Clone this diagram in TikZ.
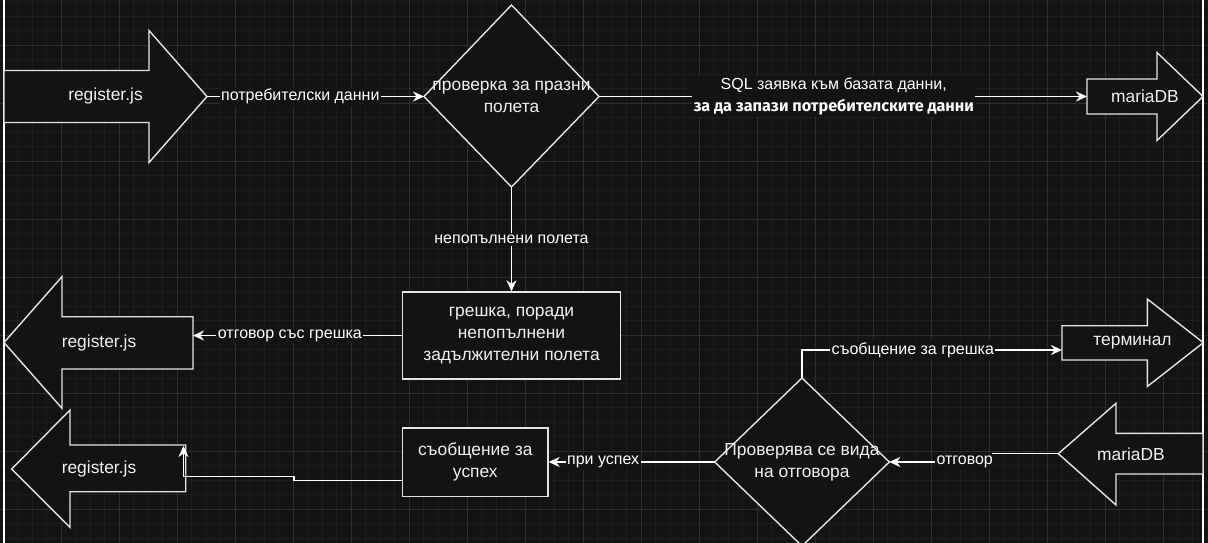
\documentclass[tikz,border=0pt]{standalone}
\usepackage{fontspec}
\setmainfont{Liberation Sans}
\newfontfamily\notefont{Fira Sans}
\usetikzlibrary{arrows.meta}

\definecolor{bg}{HTML}{131313}
\definecolor{gridmin}{HTML}{1D1D1D}
\definecolor{gridmaj}{HTML}{2E2E2E}
\definecolor{stroke}{HTML}{E4E4E4}
\definecolor{ink}{HTML}{F0F0F0}

\begin{document}
\begin{tikzpicture}[x=1pt,y=-1pt,
  shapeline/.style={draw=stroke,line width=1.4pt,fill=bg,line join=miter},
  nodetext/.style={text=ink,font=\fontsize{17.4}{21.7}\selectfont,align=center,inner sep=0pt},
  boxnode/.style={draw=stroke,line width=1.4pt,fill=bg,text=ink,
    font=\fontsize{17.4}{21.7}\selectfont,align=center,inner sep=0pt},
  connector/.style={draw=white,line width=1.4pt,
    -{Stealth[length=11pt,width=10pt,inset=3.5pt]}},
  edgelabel/.style={fill=bg,text=white,font=\fontsize{16}{22}\selectfont,
    inner xsep=1.5pt,inner ysep=2pt,align=center},
  gridminor/.style={draw=gridmin,line width=0.7pt},
  gridmajor/.style={draw=gridmaj,line width=0.8pt},
  frameline/.style={draw=white,line width=1.3pt}]

% canvas
\fill[bg] (0,0) rectangle (1208,543);
\useasboundingbox (0,0) rectangle (1208,543);

% background grid
\foreach \i in {0,...,83} {
  \pgfmathsetmacro\gx{3+14.5*\i}
  \draw[gridminor] (\gx,0) -- (\gx,543);
}
\foreach \i in {0,...,37} {
  \pgfmathsetmacro\gy{1.8+14.5*\i}
  \draw[gridminor] (0,\gy) -- (1208,\gy);
}
\foreach \i in {0,...,20} {
  \pgfmathsetmacro\gx{3+58*\i}
  \draw[gridmajor] (\gx,0) -- (\gx,543);
}
\foreach \i in {0,...,8} {
  \pgfmathsetmacro\gy{45.3+58*\i}
  \draw[gridmajor] (0,\gy) -- (1208,\gy);
}

% side rules
\draw[frameline] (4,0) -- (4,543);
\draw[frameline] (1203,0) -- (1203,543);

% register.js (outgoing request)
\draw[shapeline] (4,70.5) -- (149,70.5) -- (149,30.5) -- (207,96.5)
  -- (149,162.5) -- (149,122.5) -- (4,122.5) -- cycle;
\node[nodetext] (regA) at (105.5,96.5) {register.js};
\coordinate (regA-tip) at (207,96.5);

% check for empty fields
\draw[shapeline] (511.5,5) -- (599,96.5) -- (511.5,187) -- (424,96.5) -- cycle;
\node[nodetext] (chkA) at (511.5,97) {проверка за празни\\полета};
\coordinate (chkA-w) at (424,96.5);
\coordinate (chkA-e) at (599,96.5);
\coordinate (chkA-s) at (511.5,187);

% mariaDB (insert)
\draw[shapeline] (1087,79) -- (1157,79) -- (1157,52.5) -- (1203,96.5)
  -- (1157,140.5) -- (1157,114) -- (1087,114) -- cycle;
\node[nodetext] (dbA) at (1145,96.5) {mariaDB};
\coordinate (dbA-tail) at (1087,96.5);

% error box
\node[boxnode,minimum width=218pt,minimum height=87pt] (errbox) at (511.5,335.5)
  {грешка, поради\\непопълнени\\задължителни полета};

% register.js (error reply)
\draw[shapeline] (4,342.5) -- (62,276.7) -- (62,316.7) -- (193,316.7)
  -- (193,369) -- (62,369) -- (62,408.3) -- cycle;
\node[nodetext] (regB) at (99,342.7) {register.js};
\coordinate (regB-tail) at (193,335.5);

% register.js (success reply)
\draw[shapeline] (11.7,469) -- (70,410) -- (70,445) -- (185.7,445)
  -- (185.7,491.7) -- (70,491.7) -- (70,527.3) -- cycle;
\node[nodetext] (regC) at (99,469) {register.js};
\coordinate (regC-in) at (183.5,446);

% success message
\node[boxnode,minimum width=145.3pt,minimum height=68.4pt] (okbox) at (475.3,462)
  {съобщение за\\успех};
\coordinate (okbox-out) at ([yshift=-18.7pt]okbox.west);

% response type check
\draw[shapeline] (802,378) -- (889.3,462) -- (802,546) -- (714.7,462) -- cycle;
\node[nodetext] (chkB) at (802,462.5) {Проверява се вида\\на отговора};
\coordinate (chkB-n) at (802,378);
\coordinate (chkB-e) at (889.3,462);
\coordinate (chkB-w) at (714.7,462);

% terminal
\draw[shapeline] (1062,325.7) -- (1147.3,325.7) -- (1147.3,299) -- (1203.3,342.7)
  -- (1147.3,386.5) -- (1147.3,360) -- (1062,360) -- cycle;
\node[nodetext] (term) at (1132.5,342.7) {терминал};
\coordinate (term-in) at (1062,350);

% mariaDB (response)
\draw[shapeline] (1058.3,453.7) -- (1116,403.3) -- (1116,433.3) -- (1203,433.3)
  -- (1203,474) -- (1116,474) -- (1116,505) -- cycle;
\node[nodetext] (dbB) at (1131,454) {mariaDB};
\coordinate (dbB-tip) at (1058.3,453.7);

% connectors
\draw[connector] (regA-tip) -- node[edgelabel,pos=0.43] {потребителски данни} (chkA-w);
\draw[connector] (chkA-e) -- node[edgelabel,pos=0.481]
  {SQL заявка към базата данни,\\{\notefont\bfseries\fontsize{16.2}{22}\selectfont за да запази потребителските данни}}
  (dbA-tail);
\draw[connector] (chkA-s) -- node[edgelabel] {непопълнени полета} (errbox.north);
\draw[connector] (errbox.west) -- node[edgelabel,pos=0.536] {отговор със грешка} (regB-tail);
\draw[connector] (okbox-out) -- (294,480.7) -- (294,476.7) -| (regC-in);
\draw[connector] (chkB-w) -- node[edgelabel,pos=0.672] {при успех} (okbox.east);
\draw[connector] (chkB-n) |- node[edgelabel,pos=0.713] {съобщение за грешка} (term-in);
\draw[connector] (dbB-tip) -- (993,453.7) -- (993,462)
  -- node[edgelabel,pos=0.273] {отговор} (chkB-e);
\end{tikzpicture}
\end{document}
